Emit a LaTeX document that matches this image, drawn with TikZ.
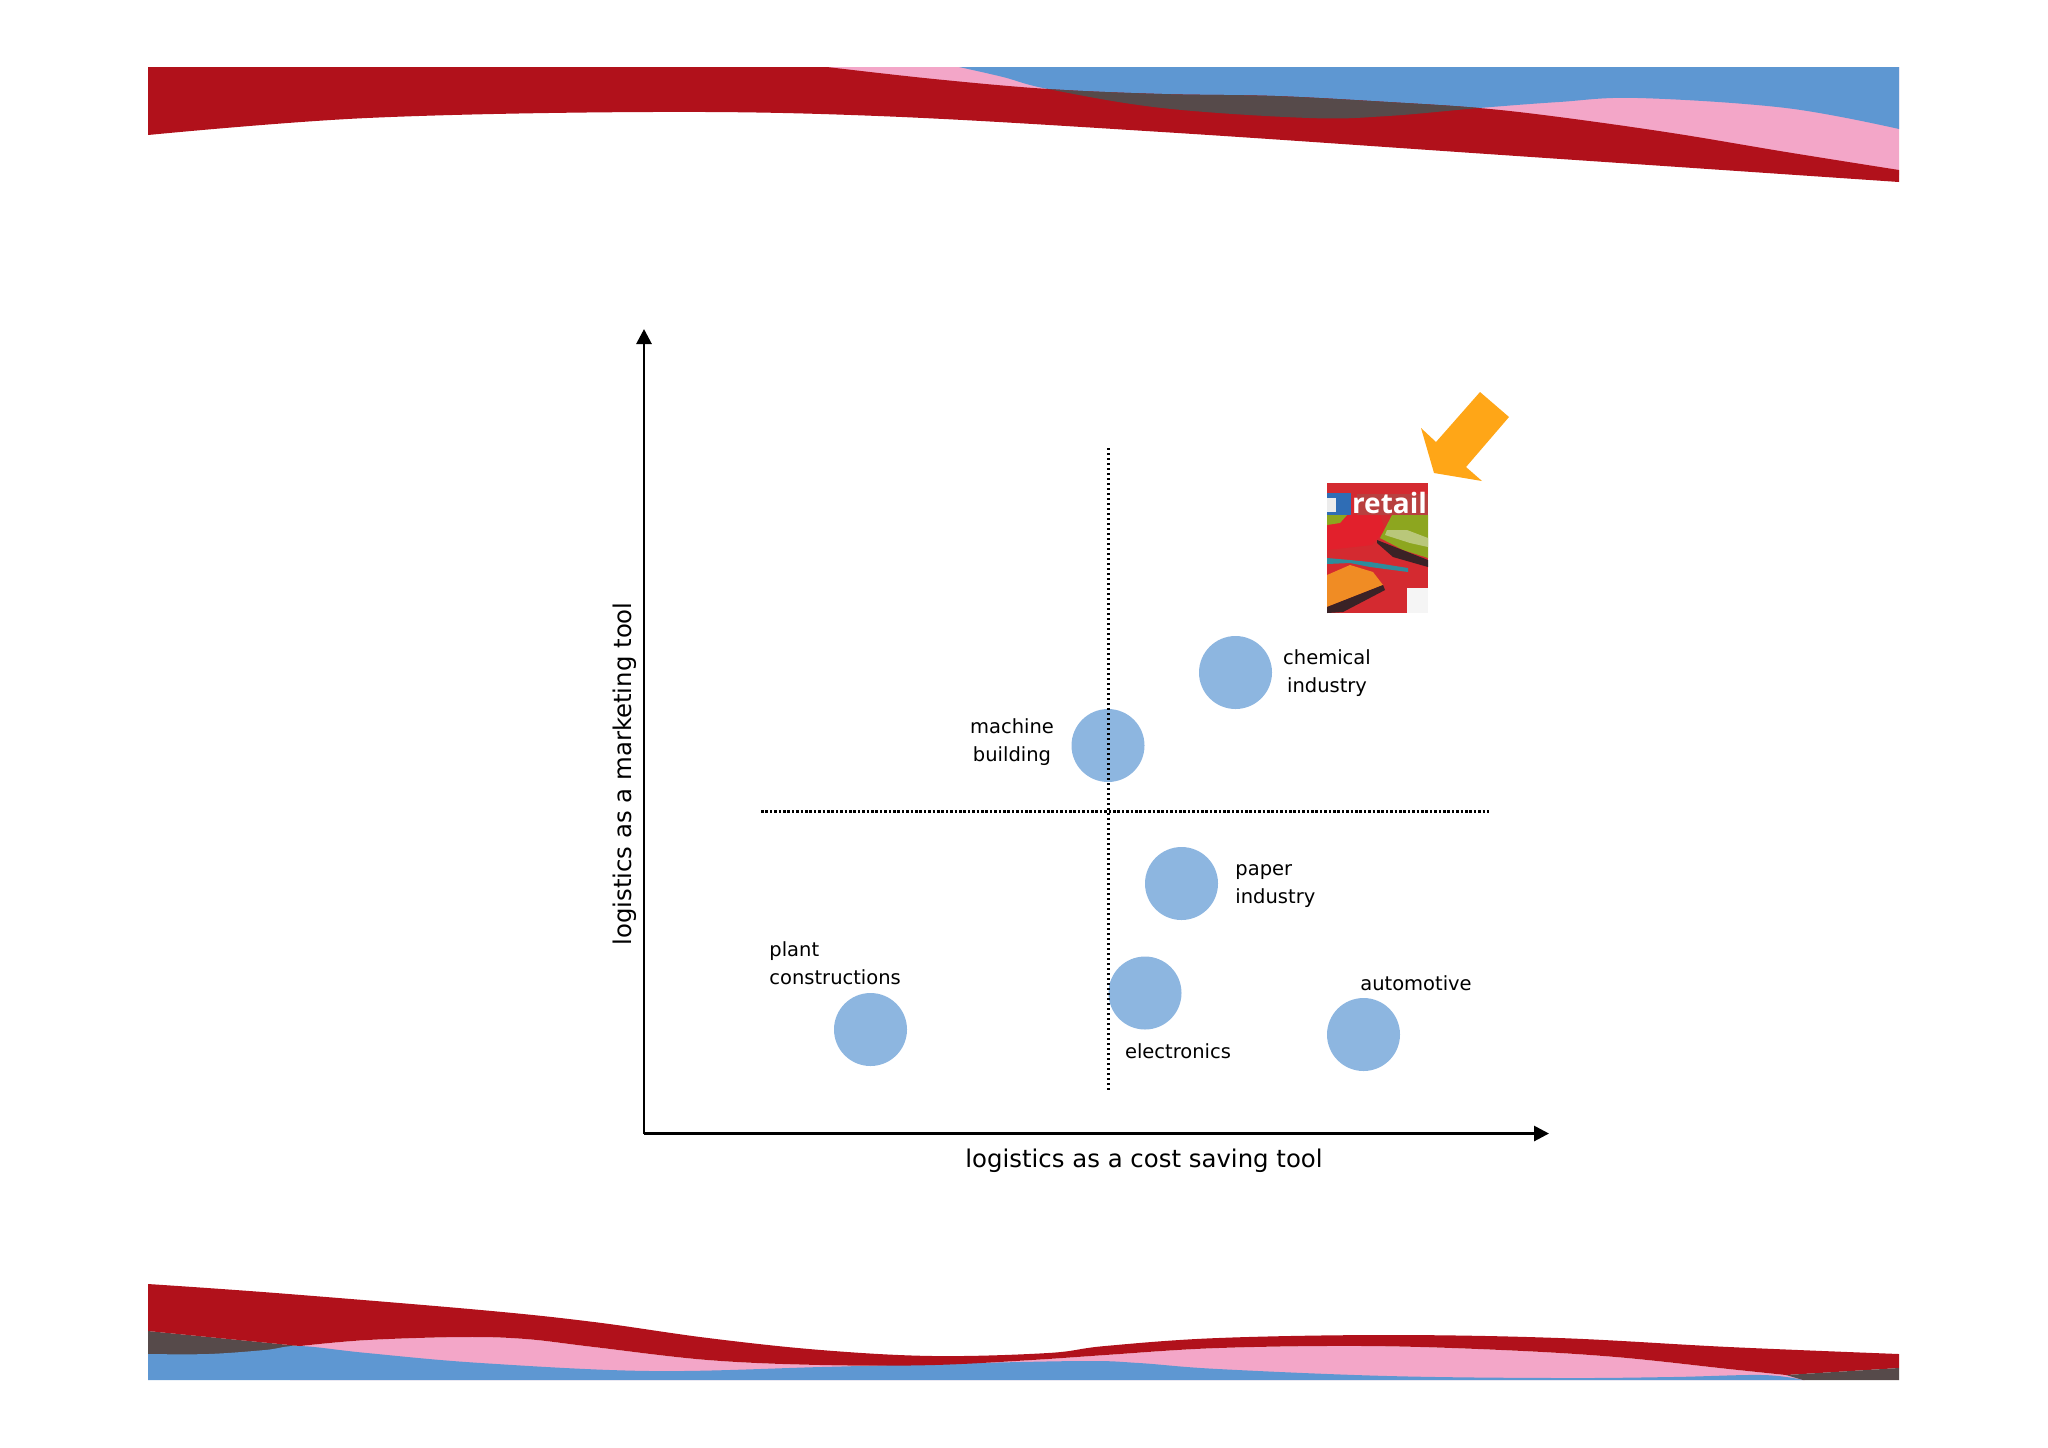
\documentclass[tikz,border=0pt]{standalone}
\usepackage{fontspec}
\setmainfont{DejaVu Sans}
\newfontfamily\magfont{Open Sans}
\usetikzlibrary{arrows.meta}
\definecolor{bandred}{HTML}{B1111B}
\definecolor{bandpink}{HTML}{F3A6C8}
\definecolor{bandblue}{HTML}{5E97D2}
\definecolor{banddark}{HTML}{564A4A}
\definecolor{dotblue}{HTML}{8DB6E0}
\definecolor{arroworange}{HTML}{FFA617}
\definecolor{magred}{HTML}{D42A30}
\definecolor{magtop}{HTML}{B8403F}
\definecolor{magblue}{HTML}{2F6DB5}
\definecolor{magbag}{HTML}{E2202C}
\definecolor{maggreen}{HTML}{8DA61F}
\definecolor{magpale}{HTML}{B9C77A}
\definecolor{magdark}{HTML}{3A2226}
\definecolor{magteal}{HTML}{2E8C9C}
\definecolor{magorange}{HTML}{F08C24}
\tikzset{
	dot/.style={circle,fill=dotblue,inner sep=0pt,minimum size=36.5pt},
	lab/.style={font=\fontsize{9.75}{14}\selectfont,inner sep=0pt},
	axislab/.style={font=\fontsize{12.2}{15}\selectfont,inner sep=0pt},
	axisline/.style={line width=1.4pt,-{Stealth[length=7.5pt,width=7.5pt,inset=0pt]}},
}
\begin{document}
\begin{tikzpicture}[x=.5pt,y=-.5pt,line join=round]
	\useasboundingbox (0,0) rectangle (2048,1447);
	%% top band
	\def\redtop{(827,67) (934,79) (1048,89) (1162,94) (1275,96) (1388,102) (1479,108) (1559,117) (1672,133) (1786,152) (1899,170)}
	\def\bluelow{(959,67) (1003,77) (1048,89) (1162,108) (1309,118) (1388,116) (1479,108) (1559,102) (1638,98) (1786,108) (1899,129)}
	\fill[bandpink] (827,67)--(1899,67)--(1899,175)--(1502,140)--(1162,110)--(900,85)--cycle;
	\fill[bandblue] (1899,67)--(959,67)--plot[smooth,tension=.6] coordinates {\bluelow}--cycle;
	\fill[bandred] (148,67)--plot[smooth,tension=.6] coordinates {\redtop}--(1899,182)
		--plot[smooth,tension=.6] coordinates {(1899,182) (1502,155) (1162,132) (878,116) (651,112) (367,118) (148,135)}--cycle;
	\begin{scope}
		\clip (1899,67)--(959,67)--plot[smooth,tension=.6] coordinates {\bluelow}--cycle;
		\fill[banddark] (827,67)--plot[smooth,tension=.6] coordinates {\redtop}--(1899,182)--(1000,182)--cycle;
	\end{scope}
	%% bottom band
	\fill[banddark] (148,1331)--(300,1346)--(148,1370)--cycle;
	\fill[bandpink] (290,1346)
		--plot[smooth,tension=.6] coordinates {(300,1346) (367,1340) (463,1337) (526,1339) (594,1347) (708,1360) (821,1365) (934,1365) (1048,1359) (1105,1355) (1218,1348) (1366,1346) (1502,1350) (1616,1357) (1729,1369) (1786,1375)}
		--(1805,1380)--(290,1380)--cycle;
	\fill[bandblue] (148,1380)--(148,1354)
		--plot[smooth,tension=.6] coordinates {(148,1354) (208,1354) (265,1350) (300,1346) (367,1353) (481,1363) (651,1371) (821,1367) (934,1364) (1082,1361) (1139,1363) (1218,1369) (1388,1376) (1559,1378) (1672,1377) (1763,1375) (1803,1380)}--cycle;
	\fill[bandred] (148,1331)--(148,1284)
		--plot[smooth,tension=.6] coordinates {(148,1284) (276,1293) (481,1310) (594,1322) (708,1338) (821,1350) (934,1356) (1048,1353) (1105,1346) (1218,1338) (1388,1335) (1559,1338) (1729,1347) (1899,1354)}
		--(1899,1368)--(1786,1375)
		--plot[smooth,tension=.6] coordinates {(1786,1375) (1729,1369) (1616,1357) (1502,1350) (1366,1346) (1218,1348) (1105,1355) (1048,1359) (934,1365) (821,1365) (708,1360) (594,1347) (526,1339) (463,1337) (367,1340) (300,1346)}
		--cycle;
	\fill[banddark] (1786,1375)--(1899,1368)--(1899,1380)--(1803,1380)--cycle;
	%% points
	\path
	(644,1133.5) coordinate (O)
	(1549,1133.5) coordinate (X)
	(644,329) coordinate (Y)
	(761,811) coordinate (HL)
	(1489,811) coordinate (HR)
	(1108.5,448) coordinate (VT)
	(1108.5,1090) coordinate (VB)
	;
	%% circles
	\foreach \x/\y/\g in {1235.5/672.5/chem,1108/745.5/mach,1181.5/883.5/pap,870.5/1029.5/plant,1145/993/elec,1363.5/1034.5/auto}
	\node[dot] (\g) at (\x,\y) {};
	%% axes and dotted lines
	\draw[axisline] (O)--(X);
	\draw[axisline] (O)--(Y);
	\draw[line width=1.5pt,dash pattern=on 1.3pt off .9pt] (HL)--(HR);
	\draw[line width=1.2pt,dash pattern=on 1.2pt off 1.3pt] (VT)--(VB);
	%% labels
	\node[lab,align=center] (chemlab) at (1327,673) {chemical\\industry};
	\node[lab,align=center] (machlab) at (1012,742) {machine\\building};
	\node[lab,align=left,anchor=west] (paplab) at (1235,886) {paper\\industry};
	\node[lab,align=left,anchor=west] (plantlab) at (769,963.5) {plant\\constructions};
	\node[lab] (eleclab) at (1178,1051) {electronics};
	\node[lab] (autolab) at (1416,983) {automotive};
	\node[axislab] (xlab) at (1144,1161) {logistics as a cost saving tool};
	\node[axislab,rotate=90] (ylab) at (625,774) {logistics as a marketing tool};
	%% orange arrow
	\fill[arroworange] (1480,392)--(1509,417)--(1466,467)--(1482,481)--(1434,473)--(1421,428)--(1436,442)--cycle;
	%% magazine
	\fill[magred] (1327,483) rectangle (1428,613);
	\fill[magtop] (1357,494) rectangle (1428,515);
	\fill[magblue] (1327,493) rectangle (1351,515);
	\fill[white!85!gray] (1327,498) rectangle (1336,512);
	\fill[magbag] (1327,515)--(1380,515)--(1385,530)--(1372,545)--(1327,550)--cycle;
	\fill[maggreen] (1392,515)--(1428,515)--(1428,558)--(1403,550)--(1380,538)--cycle;
	\fill[maggreen] (1327,515)--(1347,515)--(1340,523)--(1327,525)--cycle;
	\fill[magpale] (1387,530)--(1407,530)--(1428,538)--(1428,547)--(1410,543)--(1385,535)--cycle;
	\fill[magdark] (1377,540)--(1428,560)--(1428,567)--(1393,557)--(1377,543)--cycle;
	\fill[magteal] (1327,558)--(1350,560)--(1370,562)--(1408,568)--(1408,572)--(1370,567)--(1350,563)--(1327,564)--cycle;
	\fill[magorange] (1327,575)--(1350,565)--(1373,572)--(1383,585)--(1327,607)--cycle;
	\fill[magdark] (1327,607)--(1383,585)--(1385,590)--(1343,612)--(1327,613)--cycle;
	\fill[white!92!gray] (1407,588) rectangle (1428,613);
	\node[font=\magfont\fontsize{14}{16}\bfseries\selectfont,text=white,inner sep=0pt,anchor=base] (mag) at (1389.5,513) {retail};
\end{tikzpicture}
\end{document}
